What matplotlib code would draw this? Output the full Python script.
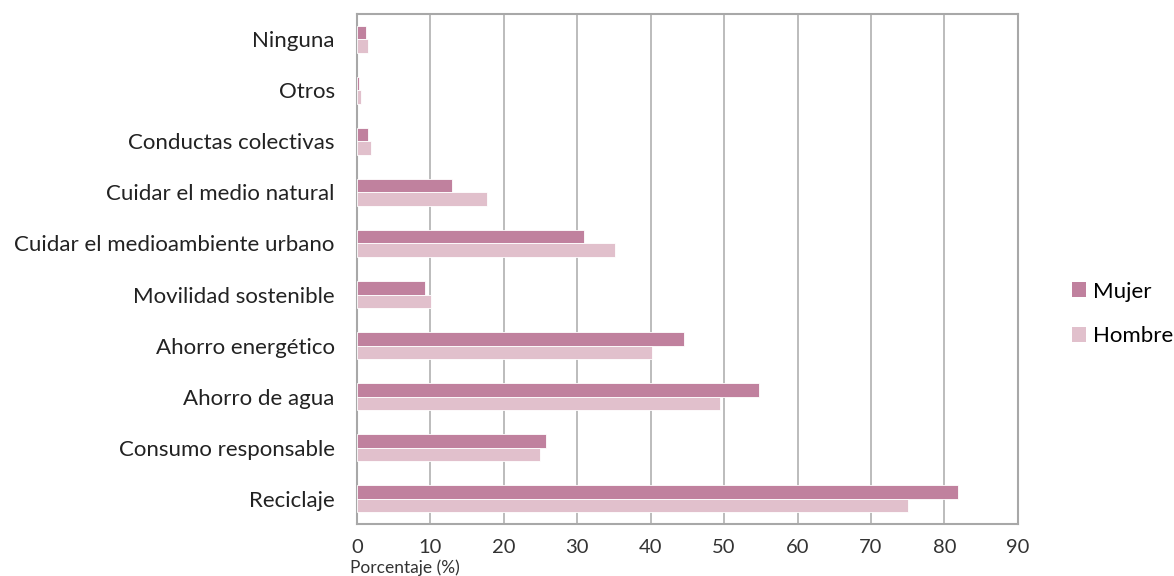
import numpy as np
import matplotlib.pyplot as plt
from matplotlib.patches import Patch

categorias = ['Reciclaje', 'Consumo responsable', 'Ahorro de agua', 'Ahorro energético',
              'Movilidad sostenible', 'Cuidar el medioambiente urbano',
              'Cuidar el medio natural', 'Conductas colectivas', 'Otros', 'Ninguna']
mujer = [81.8, 25.7, 54.8, 44.5, 9.3, 30.9, 13.0, 1.5, 0.3, 1.2]
hombre = [75.0, 25.0, 49.4, 40.2, 10.1, 35.1, 17.7, 1.9, 0.5, 1.5]
ticks_x = [0, 10, 20, 30, 40, 50, 60, 70, 80, 90]

c_mujer = '#C0819E'
c_hombre = '#E1C0CC'

plt.rcParams['font.family'] = ['Lato', 'DejaVu Sans']

fig = plt.figure(figsize=(11.74, 5.76), dpi=100)
ax = fig.add_axes([0.304, 0.090, 0.563, 0.886])

y = np.arange(len(categorias))
h = 0.265
ax.barh(y + h / 2, mujer, height=h, color=c_mujer, edgecolor='white', linewidth=0.6, zorder=3)
ax.barh(y - h / 2, hombre, height=h, color=c_hombre, edgecolor='white', linewidth=0.6, zorder=3)

ax.set_xlim(0, 90)
ax.set_ylim(-0.5, 9.5)
ax.set_xticks(ticks_x)
ax.set_xticklabels([str(t) for t in ticks_x], fontsize=14.5, color='#333333')
ax.set_yticks(y)
ax.set_yticklabels(categorias, fontsize=16, color='#222222')
ax.tick_params(axis='y', length=0, pad=16)
ax.tick_params(axis='x', length=0, pad=11)
ax.grid(axis='x', color='#b0b0b0', linewidth=1.2, zorder=0)
for s in ax.spines.values():
    s.set_color('#a8a8a8')
    s.set_linewidth(1.5)

# etiqueta del eje x, abajo a la izquierda como en el original
fig.text(0.298, 0.0, 'Porcentaje (%)', fontsize=12.5, color='#333333', ha='left', va='bottom')

handles = [Patch(facecolor=c_mujer, label='Mujer'), Patch(facecolor=c_hombre, label='Hombre')]
fig.legend(handles=handles, loc='center left', bbox_to_anchor=(0.913, 0.455), frameon=False,
           fontsize=16, handlelength=0.65, handleheight=0.65, handletextpad=0.3, labelspacing=1.1,
           borderaxespad=0, borderpad=0)

fig.savefig('out.png', dpi=100)
